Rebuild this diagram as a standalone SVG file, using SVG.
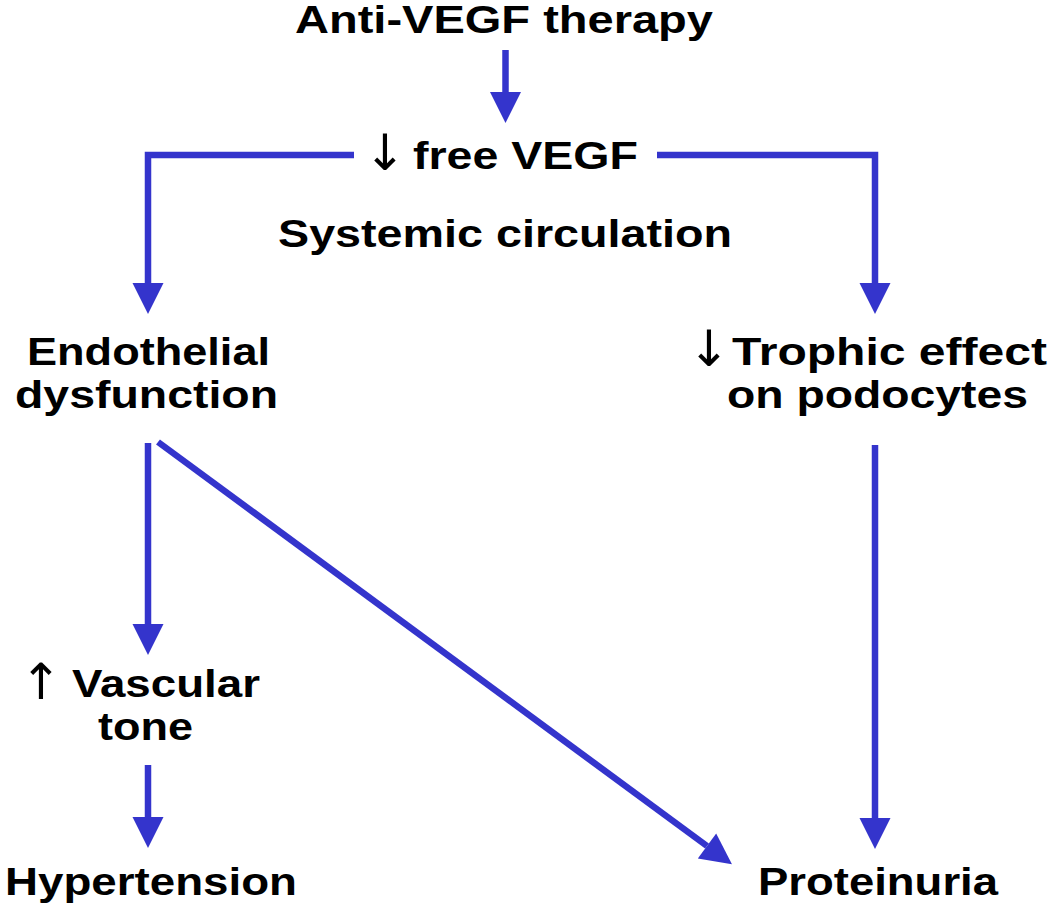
<svg xmlns="http://www.w3.org/2000/svg" width="1050" height="913" viewBox="0 0 1050 913">
  <style>
    .t { font-family: "Liberation Sans", Arial, sans-serif; font-weight: bold; font-size: 38px; fill: #000; }
    .ar { font-family: "DejaVu Sans", sans-serif; font-weight: normal; font-size: 50px; fill: #000; }
    .c { stroke: #3434CC; stroke-width: 6.5; fill: none; marker-end: url(#ah); }
  </style>
  <defs>
    <marker id="ah" viewBox="0 -16 31 32" refX="0" refY="0" markerWidth="31" markerHeight="32" markerUnits="userSpaceOnUse" orient="auto" overflow="visible">
      <path d="M0,-15.5 L31,0 L0,15.5 Z" fill="#3434CC"/>
    </marker>
  </defs>
  <rect width="1050" height="913" fill="#fff"/>
  <g id="connectors">
    <line class="c" x1="505.5" y1="50" x2="505.5" y2="92"/>
    <polyline class="c" points="354,155 148,155 148,283"/>
    <polyline class="c" points="657,155 875,155 875,283"/>
    <line class="c" x1="148" y1="443" x2="148" y2="624"/>
    <line class="c" x1="148" y1="765" x2="148" y2="817"/>
    <line class="c" x1="875" y1="445" x2="875" y2="818"/>
    <line class="c" x1="158" y1="442" x2="707" y2="846"/>
  </g>
  <g id="anti-vegf">
    <text class="t" x="295" y="33" textLength="418" lengthAdjust="spacingAndGlyphs">Anti-VEGF therapy</text>
  </g>
  <g id="free-vegf">
    <text class="ar" x="364" y="170">↓</text>
    <text class="t" x="413" y="169" textLength="225" lengthAdjust="spacingAndGlyphs">free VEGF</text>
  </g>
  <g id="systemic">
    <text class="t" x="278" y="247" textLength="454" lengthAdjust="spacingAndGlyphs">Systemic circulation</text>
  </g>
  <g id="endothelial">
    <text class="t" x="27" y="365" textLength="243" lengthAdjust="spacingAndGlyphs">Endothelial</text>
    <text class="t" x="15" y="408" textLength="263" lengthAdjust="spacingAndGlyphs">dysfunction</text>
  </g>
  <g id="trophic">
    <text class="ar" x="688" y="366">↓</text>
    <text class="t" x="732" y="365" textLength="315" lengthAdjust="spacingAndGlyphs">Trophic effect</text>
    <text class="t" x="727" y="408" textLength="301" lengthAdjust="spacingAndGlyphs">on podocytes</text>
  </g>
  <g id="vascular">
    <text class="ar" x="20" y="699">↑</text>
    <text class="t" x="72" y="697" textLength="188" lengthAdjust="spacingAndGlyphs">Vascular</text>
    <text class="t" x="98" y="740" textLength="95" lengthAdjust="spacingAndGlyphs">tone</text>
  </g>
  <g id="hypertension">
    <text class="t" x="5" y="895" textLength="292" lengthAdjust="spacingAndGlyphs">Hypertension</text>
  </g>
  <g id="proteinuria">
    <text class="t" x="758" y="895" textLength="240" lengthAdjust="spacingAndGlyphs">Proteinuria</text>
  </g>
</svg>
